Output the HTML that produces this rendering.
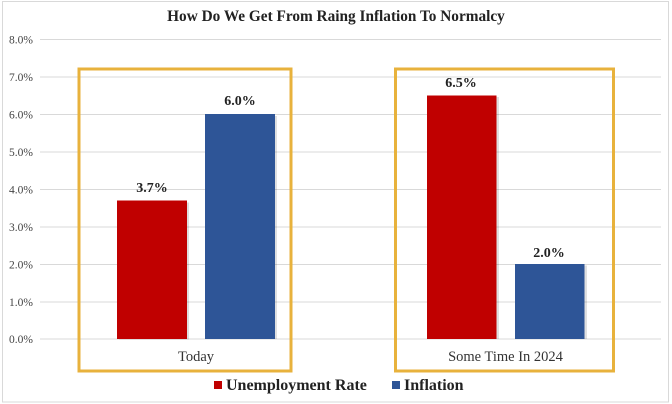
<!DOCTYPE html>
<html>
<head>
<meta charset="utf-8">
<style>
html,body{margin:0;padding:0;background:#fff;}
svg{display:block;}
</style>
</head>
<body>
<svg width="672" height="404" viewBox="0 0 672 404" xmlns="http://www.w3.org/2000/svg">
  <rect x="0" y="0" width="672" height="404" fill="#fff"/>
  <rect x="2.5" y="1.5" width="666" height="400.5" fill="none" stroke="#d9d9d9" stroke-width="1"/>
  <!-- title -->
  <text x="336" y="21" text-anchor="middle" font-family="Liberation Serif, serif" font-weight="bold" font-size="15.3" fill="#222">How Do We Get From Raing Inflation To Normalcy</text>
  <!-- gridlines -->
  <g stroke="#d9d9d9" stroke-width="1">
    <line x1="40" y1="39.5" x2="661" y2="39.5"/>
    <line x1="40" y1="77" x2="661" y2="77"/>
    <line x1="40" y1="114.5" x2="661" y2="114.5"/>
    <line x1="40" y1="152" x2="661" y2="152"/>
    <line x1="40" y1="189.5" x2="661" y2="189.5"/>
    <line x1="40" y1="227" x2="661" y2="227"/>
    <line x1="40" y1="264.5" x2="661" y2="264.5"/>
    <line x1="40" y1="302" x2="661" y2="302"/>
    <line x1="40" y1="339" x2="661" y2="339"/>
  </g>
  <!-- y labels -->
  <g font-family="Liberation Serif, serif" font-size="11.5" fill="#444" text-anchor="end">
    <text x="33" y="43.5">8.0%</text>
    <text x="33" y="81">7.0%</text>
    <text x="33" y="118.5">6.0%</text>
    <text x="33" y="156">5.0%</text>
    <text x="33" y="193.5">4.0%</text>
    <text x="33" y="231">3.0%</text>
    <text x="33" y="268.5">2.0%</text>
    <text x="33" y="306">1.0%</text>
    <text x="33" y="343">0.0%</text>
  </g>
  <!-- bar shadows -->
  <g fill="#000" opacity="0.12">
    <rect x="119" y="202.5" width="70" height="137"/>
    <rect x="207" y="116" width="70" height="223"/>
    <rect x="429" y="97" width="70" height="242"/>
    <rect x="517" y="265.5" width="70" height="73.5"/>
  </g>
  <!-- bars -->
  <rect x="117" y="200.5" width="70" height="138.5" fill="#c00000"/>
  <rect x="205" y="114" width="70" height="225" fill="#2e5597"/>
  <rect x="427" y="95.5" width="69.5" height="243.5" fill="#c00000"/>
  <rect x="515" y="264" width="69.5" height="75" fill="#2e5597"/>
  <!-- value labels -->
  <g font-family="Liberation Serif, serif" font-weight="bold" font-size="14" fill="#222" text-anchor="middle">
    <text x="152" y="192">3.7%</text>
    <text x="240" y="105">6.0%</text>
    <text x="461" y="87">6.5%</text>
    <text x="549" y="257">2.0%</text>
  </g>
  <!-- orange boxes -->
  <rect x="79" y="69" width="212" height="302" fill="none" stroke="#e8b23c" stroke-width="3"/>
  <rect x="395.5" y="69" width="218" height="302" fill="none" stroke="#e8b23c" stroke-width="3"/>
  <!-- category labels -->
  <g font-family="Liberation Serif, serif" font-size="14.5" fill="#333" text-anchor="middle">
    <text x="196" y="361">Today</text>
    <text x="505.5" y="361">Some Time In 2024</text>
  </g>
  <!-- legend -->
  <rect x="214" y="381" width="8" height="8" fill="#c00000"/>
  <text x="226" y="390" font-family="Liberation Serif, serif" font-weight="bold" font-size="16" fill="#222">Unemployment Rate</text>
  <rect x="392" y="381" width="8" height="8" fill="#2e5597"/>
  <text x="404" y="390" font-family="Liberation Serif, serif" font-weight="bold" font-size="16" fill="#222">Inflation</text>
</svg>
</body>
</html>
